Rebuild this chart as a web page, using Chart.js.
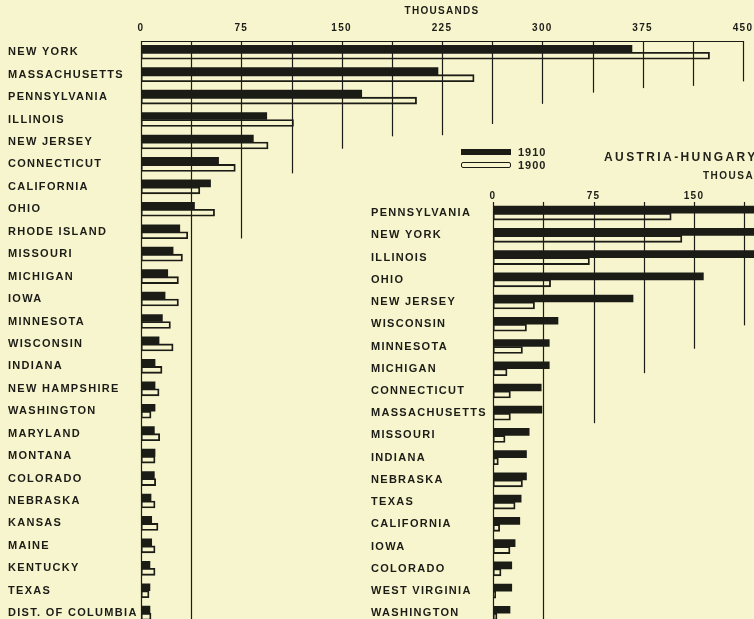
<!DOCTYPE html>
<html>
<head>
<meta charset="utf-8">
<script src="https://cdn.jsdelivr.net/npm/chart.js@4.4.1/dist/chart.umd.min.js"></script>
<style>
  html, body { margin: 0; padding: 0; width: 754px; height: 619px; overflow: hidden; background: #f7f5cd; }
  body { position: relative; font-family: "Liberation Sans", Arial, sans-serif; color: #23231c; }
  #leftChart { position: absolute; left: 0; top: 0; }
  #rightChart { position: absolute; left: 360px; top: 180px; }
  .swatch { position: absolute; left: 461px; width: 50px; height: 6px; box-sizing: border-box; }
  .swatch.dark { top: 149px; background: #1c1c17; }
  .swatch.light { top: 162px; border: 1.3px solid #1c1c17; border-radius: 2px; }
  .legend-text { position: absolute; left: 518px; font-size: 11px; font-weight: bold; letter-spacing: 1px; line-height: 12px; }
  #title { position: absolute; left: 604px; top: 150px; font-size: 12px; font-weight: bold; letter-spacing: 2.4px; white-space: nowrap; line-height: 14px; }
  #unit { position: absolute; left: 703px; top: 170px; font-size: 10px; font-weight: bold; letter-spacing: 1.5px; white-space: nowrap; line-height: 12px; }
</style>
</head>
<body>
<canvas id="leftChart" width="754" height="631"></canvas>
<canvas id="rightChart" width="546" height="451"></canvas>

<div class="swatch dark"></div>
<div class="legend-text" style="top:146px">1910</div>
<div class="swatch light"></div>
<div class="legend-text" style="top:159px">1900</div>
<div id="title">AUSTRIA-HUNGARY</div>
<div id="unit">THOUSANDS</div>

<script>
// --- البيانات: الجدول الأيسر ---
const leftStates = ['NEW YORK', 'MASSACHUSETTS', 'PENNSYLVANIA', 'ILLINOIS', 'NEW JERSEY', 'CONNECTICUT',
    'CALIFORNIA', 'OHIO', 'RHODE ISLAND', 'MISSOURI', 'MICHIGAN', 'IOWA', 'MINNESOTA', 'WISCONSIN',
    'INDIANA', 'NEW HAMPSHIRE', 'WASHINGTON', 'MARYLAND', 'MONTANA', 'COLORADO', 'NEBRASKA', 'KANSAS',
    'MAINE', 'KENTUCKY', 'TEXAS', 'DIST. OF COLUMBIA'];
const left1910 = [367, 222, 165, 94, 84, 58, 52, 40, 29, 24, 20, 18, 16, 13.5,
    10.5, 10.5, 10.5, 10, 10.5, 10, 7.5, 8, 8, 6.7, 6.7, 6.7];
const left1900 = [425, 249, 206, 114, 95, 70.5, 44, 55, 35, 31, 28, 28, 22, 24,
    15.7, 13.5, 7.5, 14, 10.5, 11, 10.5, 12.7, 10.5, 10.5, 6, 7.5];
const leftTicks = [0, 75, 150, 225, 300, 375, 450];

// --- البيانات: النمسا-المجر ---
const rightStates = ['PENNSYLVANIA', 'NEW YORK', 'ILLINOIS', 'OHIO', 'NEW JERSEY', 'WISCONSIN',
    'MINNESOTA', 'MICHIGAN', 'CONNECTICUT', 'MASSACHUSETTS', 'MISSOURI', 'INDIANA', 'NEBRASKA',
    'TEXAS', 'CALIFORNIA', 'IOWA', 'COLORADO', 'WEST VIRGINIA', 'WASHINGTON'];
const right1910 = [255, 240, 215, 157, 104.5, 48.5, 42, 42, 36, 36.5, 27, 25, 25, 21, 20, 16.5, 14, 14, 12.7];
const right1900 = [133, 141, 72, 43, 31, 25, 22, 10.5, 13, 13, 9, 4, 22, 16.5, 5, 12.7, 6, 2, 3];
const rightTicks = [0, 75, 150, 225, 300];

// خطوط الشبكة المتدرجة (القيمة + الصف الذي ينتهي عنده الخط، null = حتى الأسفل)
const leftGridValues = [0, 37.5, 75, 112.5, 150, 187.5, 225, 262.5, 300, 337.5, 375, 412.5, 450];
const leftGridEnds = [null, null, 8.3, 5.4, 4.3, 3.75, 3.7, 3.2, 2.3, 1.8, 1.6, 1.5, 1.3];
const rightGridValues = [0, 37.5, 75, 112.5, 150, 187.5, 225];
const rightGridEnds = [null, null, 9.45, 7.2, 6.1, 5.05, 4.5];

const INK = '#1c1c17';
const FONT = '"Liberation Sans", Arial, sans-serif';

// تباعد الحروف للنصوص داخل الكانفس
const spacingPlugin = {
    id: 'spacing',
    beforeDraw(chart) { chart.ctx.letterSpacing = '1.3px'; },
    afterDraw(chart) { chart.ctx.letterSpacing = '0px'; }
};

// رسم خطوط الشبكة بأطوال مختلفة
const stepGridPlugin = {
    id: 'stepGrid',
    beforeDatasetsDraw(chart, args, opts) {
        const { ctx, chartArea, scales } = chart;
        const x = scales.x, y = scales.y;
        ctx.save();
        ctx.strokeStyle = INK;
        ctx.lineWidth = 1.2;
        opts.values.forEach((v, i) => {
            const px = Math.round(x.getPixelForValue(v)) + 0.5;
            const end = opts.ends[i];
            const py = end === null ? chartArea.bottom : y.getPixelForValue(end);
            ctx.beginPath();
            ctx.moveTo(px, chartArea.top);
            ctx.lineTo(px, py);
            ctx.stroke();
        });
        if (opts.topLine) {
            ctx.beginPath();
            ctx.moveTo(x.getPixelForValue(0), chartArea.top + 0.5);
            ctx.lineTo(x.getPixelForValue(opts.topLine), chartArea.top + 0.5);
            ctx.stroke();
        }
        ctx.restore();
    }
};

function buildChart(canvasId, cfg) {
    const ctx = document.getElementById(canvasId);
    return new Chart(ctx, {
        type: 'bar',
        data: {
            labels: cfg.labels,
            datasets: [
                { label: '1910', data: cfg.a, backgroundColor: INK, borderWidth: 0, barThickness: 7 },
                { label: '1900', data: cfg.b, backgroundColor: 'rgba(0,0,0,0)', borderColor: INK,
                  borderWidth: 1.2, borderSkipped: false, barThickness: 7 }
            ]
        },
        plugins: [spacingPlugin, stepGridPlugin],
        options: {
            indexAxis: 'y',
            responsive: false,
            animation: false,
            devicePixelRatio: 1,
            layout: { padding: cfg.padding },
            plugins: {
                legend: { display: false },
                tooltip: { enabled: false },
                stepGrid: { values: cfg.gridValues, ends: cfg.gridEnds, topLine: cfg.topLine }
            },
            scales: {
                x: {
                    position: 'top',
                    min: 0,
                    max: cfg.max,
                    afterBuildTicks(s) { s.ticks = cfg.ticks.map(v => ({ value: v })); },
                    grid: { display: false, drawTicks: false },
                    border: { display: false },
                    ticks: { color: INK, font: { family: FONT, size: 10, weight: 'bold' }, padding: cfg.tickPad, maxRotation: 0 },
                    title: {
                        display: cfg.unitTitle,
                        text: 'THOUSANDS',
                        color: INK,
                        font: { family: FONT, size: 10, weight: 'bold' },
                        padding: { top: 5, bottom: 0 }
                    },
                    afterFit(s) {
                        s.height = cfg.axisHeight;
                        s.paddingLeft = 0;
                        s.paddingRight = 0;
                    }
                },
                y: {
                    grid: { display: false },
                    border: { display: false },
                    ticks: { crossAlign: 'far', autoSkip: false, padding: 0, color: INK,
                             font: { family: FONT, size: 11, weight: 'bold' } },
                    afterFit(s) { s.width = cfg.labelWidth; }
                }
            }
        }
    });
}

document.addEventListener('DOMContentLoaded', () => {
    try {
        buildChart('leftChart', {
            labels: leftStates, a: left1910, b: left1900, max: 450, ticks: leftTicks,
            gridValues: leftGridValues, gridEnds: leftGridEnds, topLine: 450,
            padding: { left: 8, right: 11, top: 0, bottom: 0 },
            axisHeight: 41, labelWidth: 133, tickPad: 7, unitTitle: true
        });
        buildChart('rightChart', {
            labels: rightStates, a: right1910, b: right1900, max: 300, ticks: rightTicks,
            gridValues: rightGridValues, gridEnds: rightGridEnds, topLine: 0,
            padding: { left: 11, right: 11, top: 0, bottom: 0 },
            axisHeight: 22, labelWidth: 122, tickPad: 0, unitTitle: false
        });
    } catch (error) {
        console.error("Chart Rendering Error:", error);
    }
});
</script>
</body>
</html>
